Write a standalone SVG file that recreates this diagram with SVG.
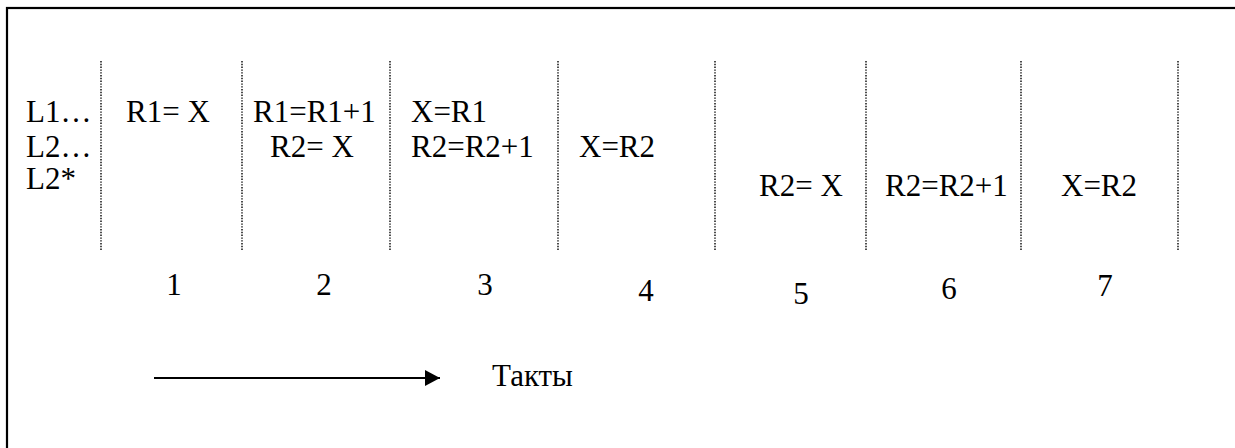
<svg xmlns="http://www.w3.org/2000/svg" width="1235" height="448" viewBox="0 0 1235 448">
<style>
  text { font-family: "Liberation Serif", "Times New Roman", serif; font-size: 31px; fill: #000; }
  .num { text-anchor: middle; }
  .sep { stroke: #000; stroke-width: 1.4; stroke-dasharray: 1.4 1.4; fill: none; }
  .frame { fill: none; stroke: #000; stroke-width: 2.2; }
</style>
<defs>
  <marker id="ah" markerWidth="16" markerHeight="16" refX="15" refY="8" orient="auto" markerUnits="userSpaceOnUse">
    <path d="M0,0 L15,8 L0,16 Z" fill="#000"/>
  </marker>
</defs>
<rect class="frame" x="7" y="8" width="1240" height="450"/>
<g id="separators">
  <line class="sep" x1="101" y1="61" x2="101" y2="250"/>
  <line class="sep" x1="242" y1="61" x2="242" y2="250"/>
  <line class="sep" x1="390" y1="61" x2="390" y2="250"/>
  <line class="sep" x1="558" y1="61" x2="558" y2="250"/>
  <line class="sep" x1="715" y1="61" x2="715" y2="250"/>
  <line class="sep" x1="866" y1="61" x2="866" y2="250"/>
  <line class="sep" x1="1021" y1="61" x2="1021" y2="250"/>
  <line class="sep" x1="1178" y1="61" x2="1178" y2="250"/>
</g>
<g id="labels">
  <text x="26" y="122">L1…</text>
  <text x="26" y="157">L2…</text>
  <text x="26" y="189">L2*</text>
</g>
<g id="col1"><text x="126" y="122">R1= X</text></g>
<g id="col2">
  <text x="253" y="122">R1=R1+1</text>
  <text x="270" y="157">R2= X</text>
</g>
<g id="col3">
  <text x="411" y="122">X=R1</text>
  <text x="411" y="157">R2=R2+1</text>
</g>
<g id="col4"><text x="579" y="157">X=R2</text></g>
<g id="col5"><text x="759" y="196">R2= X</text></g>
<g id="col6"><text x="885" y="196">R2=R2+1</text></g>
<g id="col7"><text x="1061" y="196">X=R2</text></g>
<g id="numbers">
  <text class="num" x="174" y="295">1</text>
  <text class="num" x="324" y="295">2</text>
  <text class="num" x="485" y="295">3</text>
  <text class="num" x="646" y="301">4</text>
  <text class="num" x="801" y="304">5</text>
  <text class="num" x="949" y="299">6</text>
  <text class="num" x="1105" y="296">7</text>
</g>
<g id="connectors">
  <line x1="154" y1="378" x2="440" y2="378" stroke="#000" stroke-width="2.2" marker-end="url(#ah)"/>
</g>
<g id="axis-label"><text x="492" y="386">Такты</text></g>
</svg>
